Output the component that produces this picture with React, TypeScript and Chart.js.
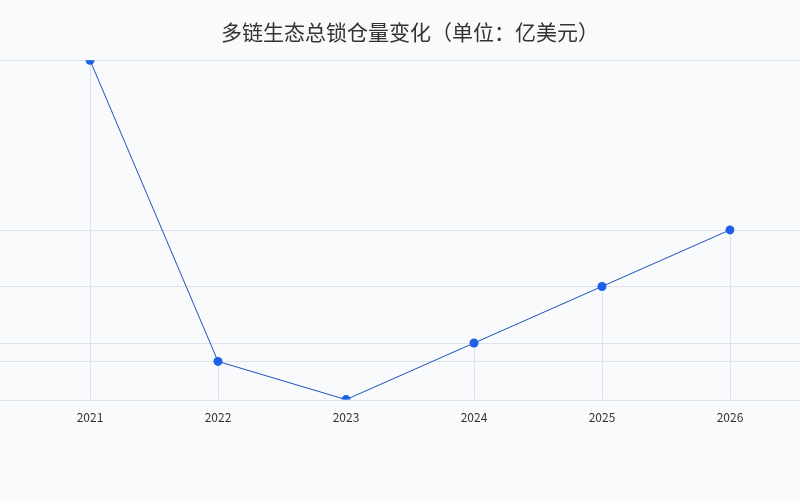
import React, { useEffect, useRef } from 'react';
import { Chart, registerables, Plugin } from 'chart.js';

Chart.register(...registerables);

const years = ['2021', '2022', '2023', '2024', '2025', '2026'];
const tvl = [1600, 535, 400, 600, 800, 1000];

const FONT = '"Noto Sans CJK SC", "Noto Sans", sans-serif';
const GRID = '#dde2ec';

// horizontal line at every point value across the whole width, and a drop line under each point
const guideLines: Plugin<'line'> = {
  id: 'guideLines',
  beforeDatasetsDraw(chart) {
    const { ctx, chartArea, scales } = chart;
    const y = scales.y;
    const x = scales.x;
    ctx.save();
    ctx.strokeStyle = GRID;
    ctx.lineWidth = 1;
    tvl.forEach((v, i) => {
      const py = Math.round(y.getPixelForValue(v)) + 0.5;
      ctx.beginPath();
      ctx.moveTo(0, py);
      ctx.lineTo(chart.width, py);
      ctx.stroke();
      const px = Math.round(x.getPixelForValue(i)) + 0.5;
      ctx.beginPath();
      ctx.moveTo(px, py);
      ctx.lineTo(px, chartArea.bottom);
      ctx.stroke();
    });
    ctx.restore();
  },
};

const TvlChart: React.FC = () => {
  const canvasRef = useRef<HTMLCanvasElement | null>(null);
  const chartRef = useRef<Chart | null>(null);

  useEffect(() => {
    if (!canvasRef.current) return;
    if (chartRef.current) chartRef.current.destroy();

    chartRef.current = new Chart(canvasRef.current, {
      type: 'line',
      data: {
        labels: years,
        datasets: [
          {
            data: tvl,
            borderColor: '#1f50bd',
            borderWidth: 1,
            pointBackgroundColor: '#1d5fe6',
            pointBorderColor: '#1d5fe6',
            pointRadius: 4.5,
            pointBorderWidth: 0,
            tension: 0,
          },
        ],
      },
      options: {
        responsive: false,
        animation: false,
        layout: { padding: { left: 90, right: 70, top: 0, bottom: 64 } },
        plugins: {
          legend: { display: false },
          tooltip: { enabled: false },
          title: {
            display: true,
            text: '多链生态总锁仓量变化（单位：亿美元）',
            color: '#333333',
            font: { family: FONT, size: 21, weight: 'normal' },
            padding: { top: 19, bottom: 16 },
          },
        },
        scales: {
          x: {
            offset: false,
            grid: { display: false, drawTicks: false },
            border: { display: false },
            ticks: {
              color: '#333333',
              padding: 11,
              font: { family: FONT, size: 12 },
            },
          },
          y: {
            display: false,
            min: Math.min(...tvl),
            max: Math.max(...tvl),
          },
        },
      },
      plugins: [guideLines],
    });

    return () => {
      if (chartRef.current) {
        chartRef.current.destroy();
        chartRef.current = null;
      }
    };
  }, []);

  return <canvas ref={canvasRef} width="800" height="500" />;
};

export default function App() {
  return (
    <div style={{ position: 'fixed', left: 0, top: 0, width: 800, height: 500, background: '#f8fafc' }}>
      <TvlChart />
    </div>
  );
}
